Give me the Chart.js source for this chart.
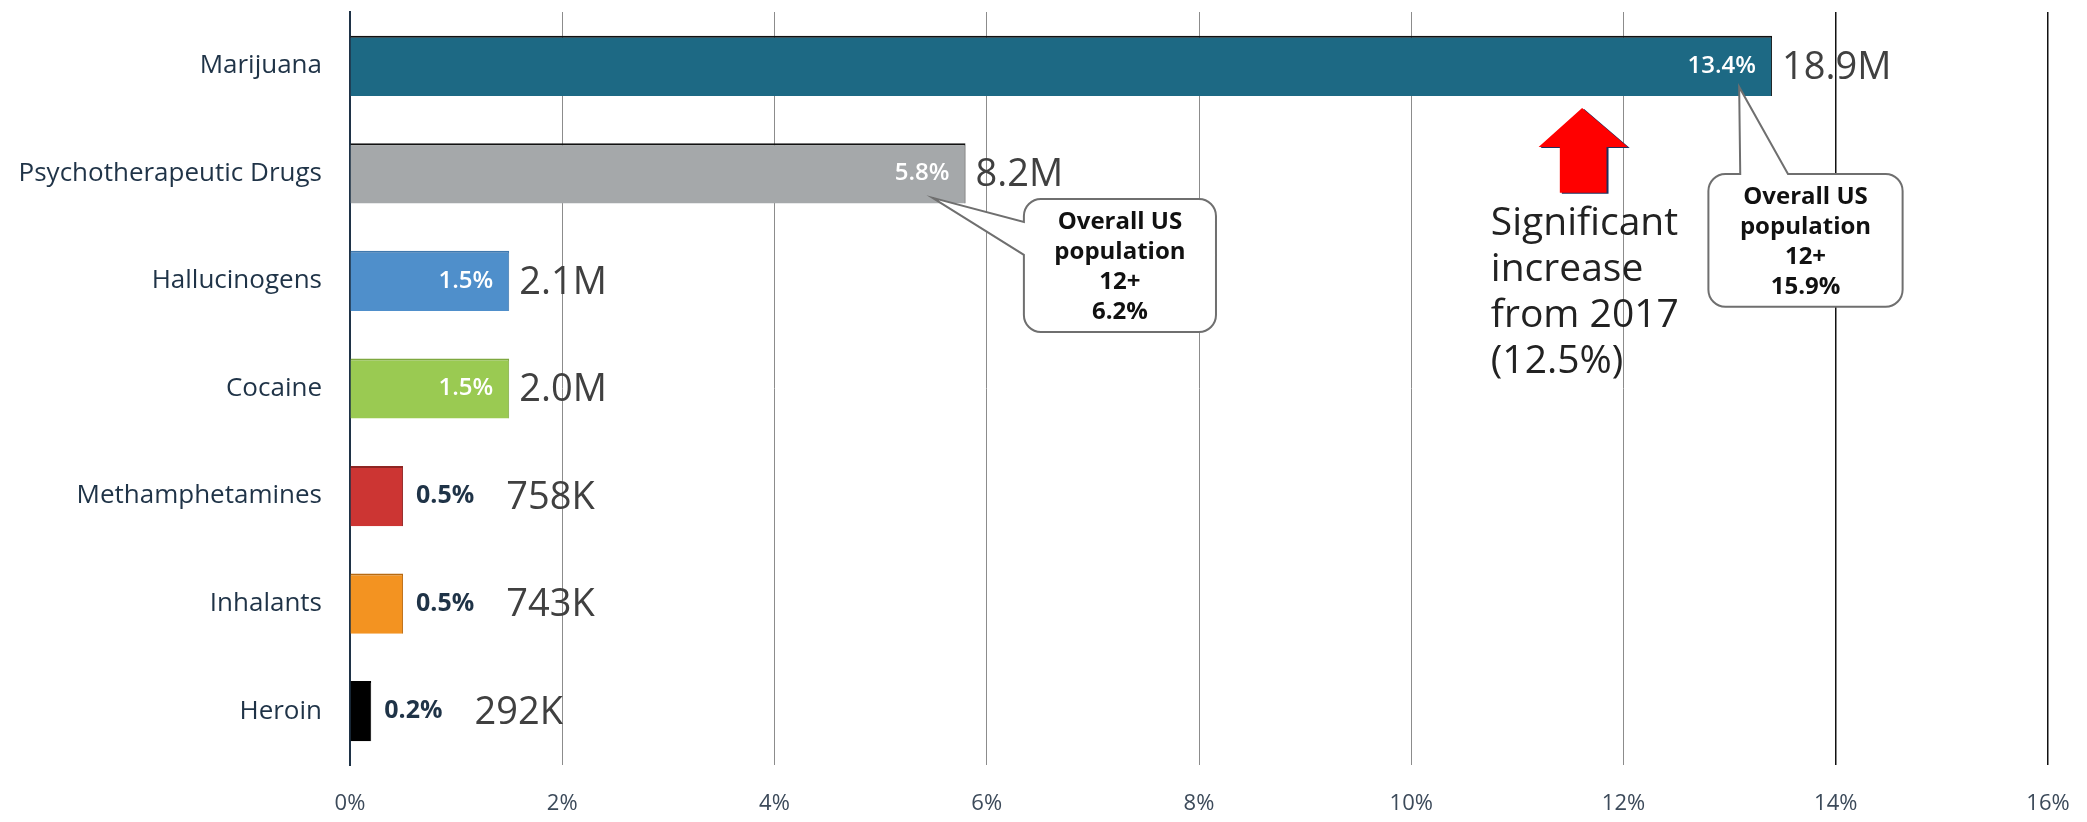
<!DOCTYPE html>
<html>
<head>
<meta charset="utf-8">
<script src="https://cdn.jsdelivr.net/npm/chart.js@4.4.0/dist/chart.umd.min.js"></script>
<style>
	body{margin:0;background:#fff;}
	#grafica{display:block;}
</style>
</head>
<body>
<canvas id="grafica" width="2087" height="822"></canvas>
<script>
// past-year users 12+, by substance
var DROGAS=['Marijuana','Psychotherapeutic Drugs','Hallucinogens','Cocaine','Methamphetamines','Inhalants','Heroin'];
var PORCENTAJES=[13.4,5.8,1.5,1.5,0.5,0.5,0.2];
var USUARIOS=['18.9M','8.2M','2.1M','2.0M','758K','743K','292K'];
var COLORES=['#1d6984','#a5a8aa','#4f8fcb','#9aca52','#cc3533','#f39321','#000000'];
var BORDES=['#111111','#111111','#3f78ae','#7ea83f','#8e2523','#b86a10','#000000'];
// overall US population 12+ for the two callouts
var GLOBO_TEXTO=[['Overall US','population','12+','6.2%'],['Overall US','population','12+','15.9%']];
var NOTA=['Significant','increase','from 2017','(12.5%)'];

var FUENTE='"Open Sans", "DejaVu Sans", sans-serif';

// callout geometry, x in % units, y in category units
var GLOBOS=[
	{caja:[6.35,8.16,1.238,2.474],lado:'left',base:[1.452,1.758],punta:[5.49,1.228]},
	{caja:[12.80,14.63,1.006,2.240],lado:'top',base:[13.10,13.55],punta:[13.09,0.197]}
];

function globo(ctx,l,t,r,b,lado,b1,b2,px,py,rad){
	ctx.beginPath();
	if(lado=='top'){
		ctx.moveTo(l+rad,t);
		ctx.lineTo(b1,t);
		ctx.lineTo(px,py);
		ctx.lineTo(b2,t);
		ctx.arcTo(r,t,r,b,rad);
		ctx.arcTo(r,b,l,b,rad);
		ctx.arcTo(l,b,l,t,rad);
		ctx.arcTo(l,t,r,t,rad);
	}else{
		ctx.moveTo(l+rad,t);
		ctx.arcTo(r,t,r,b,rad);
		ctx.arcTo(r,b,l,b,rad);
		ctx.arcTo(l,b,l,t,rad);
		ctx.lineTo(l,b2);
		ctx.lineTo(px,py);
		ctx.lineTo(l,b1);
		ctx.arcTo(l,t,r,t,rad);
	}
	ctx.closePath();
	ctx.fillStyle='#ffffff';
	ctx.fill();
	ctx.lineWidth=2;
	ctx.strokeStyle='#6f6f6f';
	ctx.stroke();
}

var anotaciones={
	id:'anotaciones',
	afterDatasetsDraw:function(chart){
		var ctx=chart.ctx;
		var sx=chart.scales.x, sy=chart.scales.y;
		var paso=sy.getPixelForValue(1)-sy.getPixelForValue(0);
		var X=function(v){return sx.getPixelForValue(v);};
		var Y=function(v){return sy.getPixelForValue(0)+v*paso;};
		var barras=chart.getDatasetMeta(0).data;
		ctx.save();
		ctx.textBaseline='middle';
		for(var i=0;i<barras.length;i++){
			var bar=barras[i];
			var txt=PORCENTAJES[i].toFixed(1)+'%';
			var inicio;
			if(PORCENTAJES[i]>=1){
				ctx.font='600 24px '+FUENTE;
				ctx.fillStyle='#ffffff';
				ctx.textAlign='right';
				ctx.fillText(txt,bar.x-16,bar.y);
				inicio=bar.x+10;
			}else{
				ctx.font='bold 25px '+FUENTE;
				ctx.fillStyle='#1f3347';
				ctx.textAlign='left';
				ctx.fillText(txt,bar.x+13,bar.y);
				inicio=bar.x+13+ctx.measureText(txt).width+32;
			}
			ctx.font='38px '+FUENTE;
			ctx.fillStyle='#404040';
			ctx.textAlign='left';
			ctx.fillText(USUARIOS[i],inicio,bar.y+2);
		}

		// callouts
		for(var g=0;g<GLOBOS.length;g++){
			var o=GLOBOS[g];
			var l=X(o.caja[0]),r=X(o.caja[1]),t=Y(o.caja[2]),b=Y(o.caja[3]);
			var b1,b2;
			if(o.lado=='top'){b1=X(o.base[0]);b2=X(o.base[1]);}
			else{b1=Y(o.base[0]);b2=Y(o.base[1]);}
			globo(ctx,l,t,r,b,o.lado,b1,b2,X(o.punta[0]),Y(o.punta[1]),17);
			ctx.font='bold 24px '+FUENTE;
			ctx.fillStyle='#111111';
			ctx.textAlign='center';
			var lineas=GLOBO_TEXTO[g];
			for(var k=0;k<lineas.length;k++){
				ctx.fillText(lineas[k],(l+r)/2,t+23+k*30);
			}
		}

		// red arrow
		var pts=[[11.61,0.392],[12.04,0.755],[11.84,0.755],[11.84,1.181],[11.40,1.181],[11.40,0.755],[11.20,0.755]];
		var flecha=function(dx,dy,color){
			ctx.beginPath();
			for(var p=0;p<pts.length;p++){
				var px=X(pts[p][0])+dx, py=Y(pts[p][1])+dy;
				if(p==0) ctx.moveTo(px,py); else ctx.lineTo(px,py);
			}
			ctx.closePath();
			ctx.fillStyle=color;
			ctx.fill();
		};
		flecha(2,1,'#1f2f5c');
		flecha(0,0,'#ff0000');

		ctx.font='39px '+FUENTE;
		ctx.fillStyle='#222222';
		ctx.textAlign='left';
		for(var n=0;n<NOTA.length;n++){
			ctx.fillText(NOTA[n],X(10.75),Y(1.47)+n*46);
		}
		ctx.restore();
	}
};

var config={
	type:'bar',
	data:{
		labels:DROGAS,
		datasets:[{
			data:PORCENTAJES,
			backgroundColor:COLORES,
			borderColor:BORDES,
			borderWidth:{top:2,right:1,bottom:0,left:0},
			borderSkipped:false,
			barPercentage:0.56,
			categoryPercentage:1
		}]
	},
	options:{
		indexAxis:'y',
		responsive:false,
		animation:false,
		devicePixelRatio:1,
		layout:{padding:{top:12,right:39,left:0,bottom:0}},
		plugins:{legend:{display:false},tooltip:{enabled:false}},
		scales:{
			x:{
				min:0,max:16,
				ticks:{stepSize:2,padding:26,color:'#3c4a5a',font:{family:FUENTE,size:22},callback:function(v){return v+'%';}},
				grid:{
					drawTicks:false,
					color:function(c){
						var v=c.tick.value;
						if(v==0) return '#1f3347';
						return v>=14?'#111111':'#8c8c8c';
					},
					lineWidth:function(c){return c.tick.value>=14?1.5:1;}
				},
				border:{display:false},
				afterFit:function(s){s.height=57;s.paddingLeft=0;s.paddingRight=0;}
			},
			y:{
				ticks:{padding:28,color:'#1f3347',font:{family:FUENTE,size:26}},
				grid:{display:false,drawTicks:false},
				border:{display:true,color:'#1f3347',width:2},
				afterFit:function(s){s.width=350;s.paddingTop=0;s.paddingBottom=0;}
			}
		}
	},
	plugins:[anotaciones]
};

new Chart(document.getElementById('grafica').getContext('2d'),config);
</script>
</body>
</html>
